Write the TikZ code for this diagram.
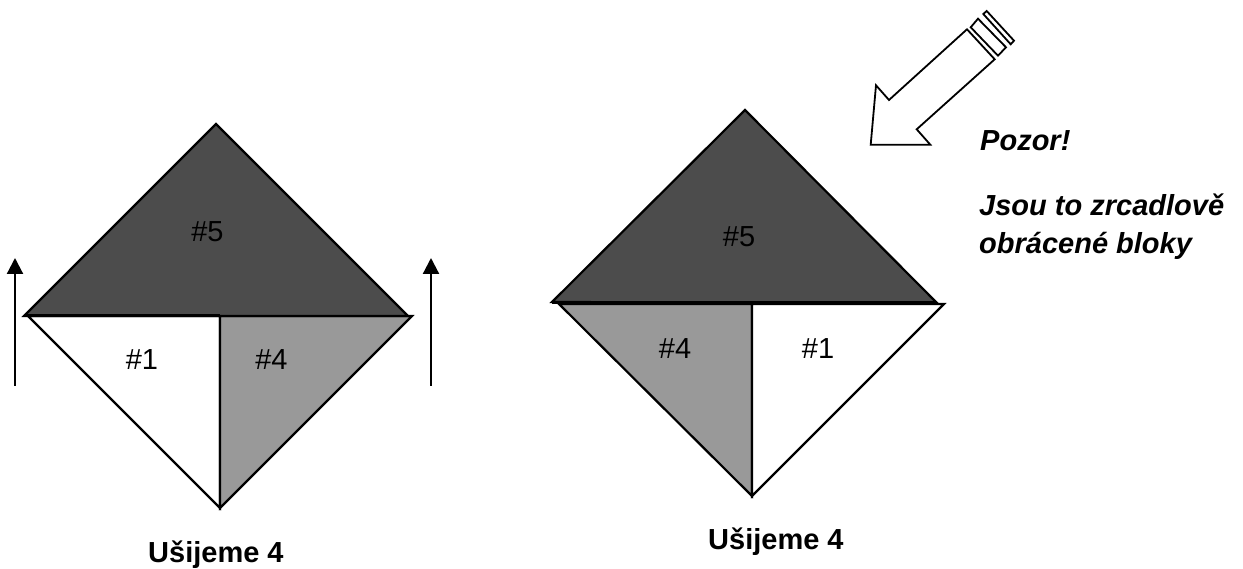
\documentclass[tikz,border=0pt]{standalone}
\usepackage{fontspec}
\setmainfont{Liberation Sans}
\usetikzlibrary{arrows.meta}
\definecolor{darktri}{gray}{0.30}
\definecolor{midtri}{gray}{0.60}
\tikzset{
  tri/.style={draw=black,line width=2.2pt,line join=miter},
  lbl/.style={font=\fontsize{29}{34}\selectfont,inner sep=0pt},
  captext/.style={font=\fontsize{29}{34}\selectfont\bfseries,inner sep=0pt,anchor=base west},
  notetext/.style={font=\fontsize{29}{34}\selectfont\bfseries\itshape,inner sep=0pt,anchor=base west},
  uparrow/.style={line width=2.2pt,-{Triangle[length=16pt,width=16pt]}},
  pencil/.style={draw=black,line width=1.8pt,fill=white,line join=miter}
}
\begin{document}
\begin{tikzpicture}[x=1pt,y=-1pt]
\useasboundingbox (0,0) rectangle (1243,569);
% left block
\draw[tri,fill=white] (28,316) -- (220,316) -- (220,508) -- cycle;
\draw[tri,fill=midtri] (220,316) -- (412,316) -- (220,508) -- cycle;
\draw[tri,fill=darktri] (24,316) -- (216,124) -- (408,316) -- cycle;
\draw[line width=3pt] (24,316) -- (220,316);
% right block
\draw[tri,fill=midtri] (559,304) -- (752,304) -- (752,496) -- cycle;
\draw[tri,fill=white] (752,304) -- (944,304) -- (752,496) -- cycle;
\draw[tri,fill=darktri] (552,302) -- (745,110) -- (937,303) -- cycle;
\draw[line width=3pt] (552,303) -- (937,303);
% arrows
\coordinate (a1s) at (15,386); \coordinate (a1e) at (15,258);
\coordinate (a2s) at (431,386); \coordinate (a2e) at (431,258);
\draw[uparrow] (a1s) -- (a1e);
\draw[uparrow] (a2s) -- (a2e);
% pencil arrow
\draw[pencil] (967,29.3) -- (889,100) -- (876,85.3) -- (870.7,144.7) -- (930.3,144.7) -- (916.7,129.3) -- (994.7,59.3) -- cycle;
\draw[pencil] (970.7,27.3) -- (978,18.7) -- (1006,47.3) -- (998,55.7) -- cycle;
\draw[pencil] (983.3,14) -- (986.7,11) -- (1014,40.7) -- (1010.7,44.3) -- cycle;
% labels
\node[lbl] (l5) at (207.5,232) {\#5};
\node[lbl] (l1) at (142,360) {\#1};
\node[lbl] (l4) at (271.5,360) {\#4};
\node[lbl] (r5) at (739,237) {\#5};
\node[lbl] (r4) at (675,349) {\#4};
\node[lbl] (r1) at (818,349) {\#1};
\node[captext] (c1) at (148,562) {Ušijeme 4};
\node[captext] (c2) at (708,549) {Ušijeme 4};
\node[notetext] (n1) at (980,151) {Pozor!};
\node[notetext] (n2) at (979,216) {Jsou to zrcadlově};
\node[notetext] (n3) at (979,254) {obrácené bloky};
\end{tikzpicture}
\end{document}
